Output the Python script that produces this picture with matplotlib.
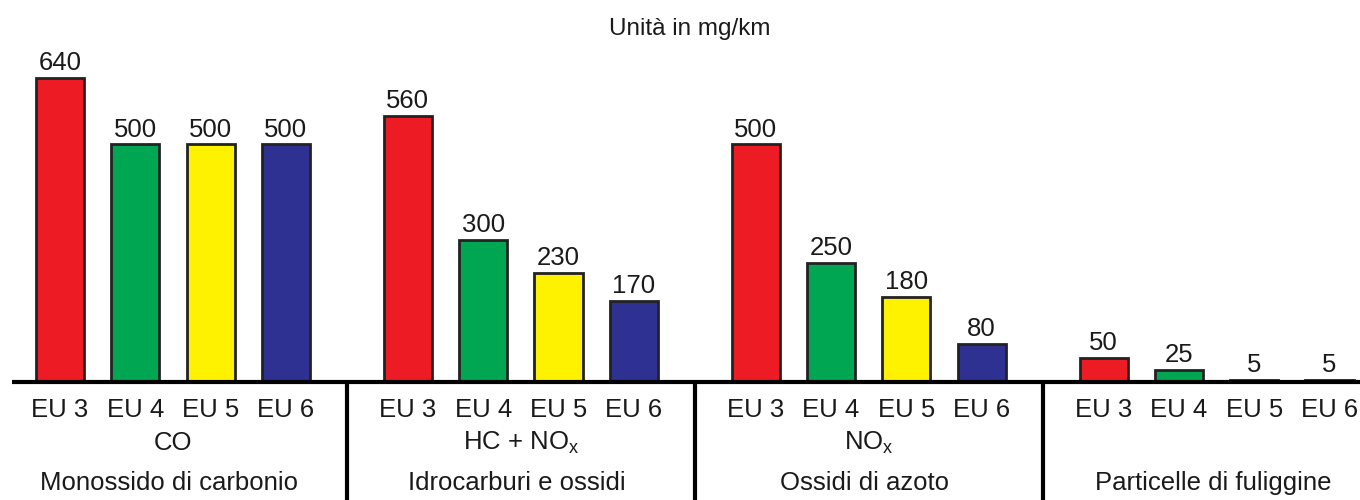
import matplotlib
matplotlib.use("Agg")
import matplotlib.pyplot as plt

plt.rcParams['font.family'] = ['Liberation Sans', 'DejaVu Sans']
plt.rcParams['mathtext.fontset'] = 'custom'
plt.rcParams['mathtext.rm'] = 'Liberation Sans'

# Emission limits (mg/km) per pollutant and Euro standard
standards = ["EU 3", "EU 4", "EU 5", "EU 6"]
pollutants = [r"CO", r"HC + NO$_\mathregular{x}$", r"NO$_\mathregular{x}$", ""]
descriptions = ["Monossido di carbonio", "Idrocarburi e ossidi",
                "Ossidi di azoto", "Particelle di fuliggine"]
co_values = [640, 500, 500, 500]
hc_nox_values = [560, 300, 230, 170]
nox_values = [500, 250, 180, 80]
pm_values = [50, 25, 5, 5]
bar_colors = ["#ED1C24", "#00A651", "#FFF200", "#2E3192"]
title = "Unità in mg/km"

groups = [co_values, hc_nox_values, nox_values, pm_values]

fig = plt.figure(figsize=(13.6, 5), dpi=100)
ax = fig.add_axes([0, 0, 1, 1])

px_per_x = 75.3
px_per_unit = 0.475
ax.set_xlim(-60 / px_per_x, (1360 - 60) / px_per_x)
ax.set_ylim(-118 / px_per_unit, 382 / px_per_unit)
ax.axis('off')

group_step = 4.62
bar_width = 0.64
ybottom = -118 / px_per_unit
fs = 18.5
txt = "#1a1a1a"

for g, vals in enumerate(groups):
    xs = [g * group_step + i for i in range(len(vals))]
    ax.bar(xs, vals, width=bar_width, color=bar_colors,
           edgecolor="#222222", linewidth=2, zorder=2)
    for x, v, lab in zip(xs, vals, standards):
        ax.annotate(f"{v}", (x, v), xytext=(0, 2), textcoords="offset points",
                    ha="center", va="bottom", fontsize=fs, color=txt)
        ax.text(x, -28 / px_per_unit, lab, ha="center", va="center",
                fontsize=fs, color=txt)
    center = (xs[0] + xs[-1]) / 2
    if pollutants[g]:
        ax.text(center, -61 / px_per_unit, pollutants[g], ha="center",
                va="center", fontsize=fs, color=txt)
    ax.text(center - 0.05, -101 / px_per_unit, descriptions[g], ha="center",
            va="center", fontsize=fs, color=txt)
    if g > 0:
        sep = g * group_step - (group_step - 3) / 2
        ax.plot([sep, sep], [0, ybottom], color="black", lw=3,
                solid_capstyle="butt", zorder=3)

# baseline
ax.plot([(12 - 60) / px_per_x, (1360 - 60) / px_per_x], [0, 0],
        color="black", lw=3, solid_capstyle="butt", zorder=3)

ax.text((690 - 60) / px_per_x, (382 - 29) / px_per_unit, title,
        ha="center", va="center", fontsize=17.5, color=txt)

fig.savefig("out.png", dpi=100)
